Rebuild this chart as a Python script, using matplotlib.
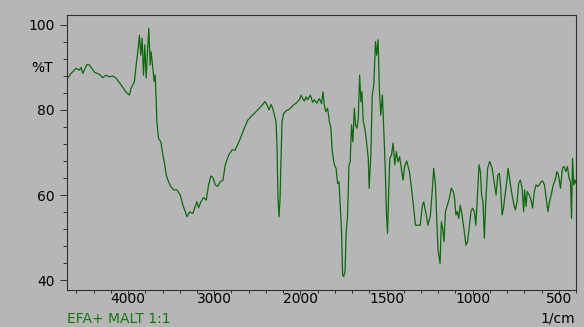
import matplotlib
matplotlib.use("Agg")
import matplotlib.pyplot as plt
import numpy as np
from matplotlib.ticker import FixedLocator, NullFormatter

# FTIR spectrum (cm-1, %T)
wavenumber = [
    4705, 4663, 4605, 4566, 4547, 4527, 4508, 4481, 4450, 4392, 4334, 4295,
    4257, 4218, 4179, 4140, 4082, 4024, 3985, 3966, 3927, 3907, 3888, 3869,
    3853, 3838, 3822, 3807, 3791, 3776, 3760, 3745, 3733, 3713, 3698, 3686,
    3674, 3667, 3647, 3620, 3597, 3581, 3558, 3531, 3504, 3473, 3434, 3395,
    3364, 3337, 3318, 3287, 3248, 3221, 3201, 3182, 3155, 3124, 3093, 3066,
    3039, 3016, 2989, 2961, 2930, 2899, 2872, 2833, 2795, 2756, 2729, 2690,
    2651, 2612, 2554, 2515, 2477, 2438, 2411, 2388, 2364, 2341, 2322, 2302,
    2283, 2271, 2260, 2248, 2236, 2225, 2213, 2194, 2167, 2128, 2090, 2051,
    2012, 1996, 1987, 1977, 1967, 1958, 1942, 1929, 1919, 1904, 1890, 1877,
    1869, 1861, 1853, 1842, 1832, 1823, 1815, 1803, 1793, 1784, 1776, 1770,
    1761, 1755, 1749, 1741, 1734, 1726, 1718, 1711, 1703, 1695, 1687, 1680,
    1672, 1664, 1656, 1649, 1643, 1635, 1626, 1616, 1606, 1601, 1591, 1583,
    1574, 1564, 1557, 1549, 1541, 1533, 1524, 1514, 1507, 1500, 1494, 1489,
    1481, 1471, 1462, 1452, 1443, 1433, 1424, 1414, 1404, 1395, 1383, 1367,
    1355, 1344, 1332, 1317, 1304, 1293, 1284, 1270, 1259, 1245, 1235, 1226,
    1216, 1208, 1201, 1189, 1182, 1174, 1166, 1158, 1147, 1135, 1124, 1112,
    1105, 1097, 1089, 1081, 1072, 1062, 1051, 1039, 1030, 1020, 1010, 1001,
    990, 982, 974, 963, 955, 948, 940, 932, 924, 913, 901, 887,
    875, 864, 854, 845, 837, 829, 821, 812, 802, 794, 783, 771,
    760, 752, 742, 733, 723, 713, 704, 698, 690, 683, 671, 661,
    652, 642, 632, 623, 613, 604, 594, 583, 573, 563, 554, 544,
    532, 521, 511, 502, 490, 479, 469, 459, 450, 440, 432, 426,
    420, 413, 405, 399,
]
transmittance = [
    87.4, 88.6, 89.8, 89.4, 90.0, 88.6, 89.4, 90.7, 90.6, 88.9, 88.4, 87.6,
    88.2, 87.8, 88.0, 87.5, 85.9, 84.2, 83.5, 85.1, 86.7, 90.6, 93.7, 97.6,
    92.9, 96.9, 88.2, 95.3, 87.5, 93.7, 99.2, 90.6, 93.7, 89.8, 86.7, 88.2,
    82.0, 77.3, 73.3, 72.5, 69.4, 67.8, 64.7, 63.1, 62.0, 61.2, 61.2, 60.0,
    57.6, 56.1, 54.9, 56.0, 55.7, 57.3, 58.4, 57.0, 58.4, 59.4, 58.8, 62.4,
    64.5, 64.1, 62.4, 62.0, 63.1, 63.5, 67.1, 69.4, 70.6, 70.6, 71.8, 73.7,
    75.7, 77.6, 78.8, 79.6, 80.4, 81.3, 82.0, 81.2, 80.0, 81.3, 80.4, 78.8,
    77.3, 71.0, 59.2, 54.9, 59.2, 68.6, 77.3, 79.2, 79.8, 80.2, 81.0, 81.6,
    82.4, 83.5, 82.7, 82.1, 83.1, 82.4, 83.5, 81.8, 82.4, 81.6, 82.7, 81.5,
    84.3, 81.2, 79.6, 80.4, 77.3, 75.7, 70.2, 67.1, 66.3, 62.7, 63.1, 58.4,
    51.4, 41.2, 40.8, 42.0, 51.4, 55.3, 67.1, 67.8, 76.5, 72.5, 80.4, 76.5,
    75.7, 78.0, 88.2, 82.0, 84.3, 77.3, 75.7, 72.5, 68.6, 61.6, 69.4, 83.5,
    85.9, 96.1, 92.9, 96.5, 84.3, 78.8, 83.5, 73.3, 65.5, 55.3, 51.0, 58.4,
    68.6, 69.4, 72.2, 67.1, 70.2, 67.8, 69.0, 66.3, 63.5, 66.7, 68.0, 65.5,
    61.6, 57.6, 52.9, 52.9, 52.9, 57.3, 58.4, 55.3, 52.9, 55.3, 60.8, 66.3,
    62.4, 53.7, 47.1, 43.9, 53.7, 52.2, 49.0, 56.1, 57.6, 59.2, 61.6, 60.8,
    59.2, 55.3, 56.1, 54.5, 57.6, 55.3, 52.2, 48.2, 49.0, 52.2, 56.1, 56.9,
    56.1, 52.9, 58.4, 67.1, 65.5, 60.0, 58.4, 49.8, 58.4, 66.3, 67.9, 66.3,
    63.1, 60.0, 64.7, 65.1, 61.6, 55.3, 56.9, 60.0, 63.1, 66.3, 63.1, 60.0,
    57.6, 56.5, 58.4, 62.7, 63.5, 61.6, 56.1, 61.2, 57.3, 60.8, 60.0, 58.8,
    56.9, 60.8, 62.4, 62.0, 62.4, 63.1, 63.3, 62.4, 59.2, 56.1, 58.4, 60.0,
    62.4, 63.5, 65.5, 64.7, 61.6, 66.3, 66.7, 65.5, 66.7, 63.9, 63.1, 54.5,
    68.6, 62.4, 63.5, 62.7,
]

x_major = [4000, 3000, 2000, 1500, 1000, 500]
x_minor = [4600, 4400, 4200, 3800, 3600, 3400, 3200, 2800, 2600, 2400, 2200,
           1900, 1800, 1700, 1600, 1400, 1300, 1200, 1100, 900, 800, 700, 600, 400]
y_major = [40, 60, 80, 100]
y_minor = [44, 48, 52, 56, 64, 68, 72, 76, 84, 88, 92, 96]

sample_label = "EFA+ MALT 1:1"
y_unit = "%T"
x_unit = "1/cm"

BG = "#b6b6b6"
LINE = "#0b6b0b"


def forward(w):
    # spectrometer axis: scale doubles below 2000 cm-1
    w = np.asarray(w, dtype=float)
    return np.where(w >= 2000, (w - 2000) / 1000.0, (w - 2000) / 500.0)


def inverse(u):
    u = np.asarray(u, dtype=float)
    return np.where(u >= 0, 2000 + u * 1000.0, 2000 + u * 500.0)


plt.rcParams["font.family"] = "DejaVu Sans"
plt.rcParams["font.size"] = 10

fig = plt.figure(figsize=(5.84, 3.27), dpi=100, facecolor=BG)
ax = fig.add_axes([67 / 584, 1 - 290 / 327, 509 / 584, 275 / 327])
ax.set_facecolor(BG)

ax.plot(wavenumber, transmittance, color=LINE, linewidth=0.9)

ax.set_xscale("function", functions=(forward, inverse))
ax.set_xlim(4710, 400)
ax.set_ylim(37.65, 102.35)

ax.xaxis.set_major_locator(FixedLocator(x_major))
ax.xaxis.set_minor_locator(FixedLocator(x_minor))
ax.xaxis.set_minor_formatter(NullFormatter())
ax.set_xticklabels([str(v) for v in x_major])
ax.yaxis.set_major_locator(FixedLocator(y_major))
ax.yaxis.set_minor_locator(FixedLocator(y_minor))
ax.set_yticklabels([str(v) for v in y_major])

ax.tick_params(axis="x", which="major", direction="out", length=3.8, width=0.7,
               color="#303030", pad=-2.6, labelsize=10)
ax.tick_params(axis="x", which="minor", direction="out", length=2.0, width=0.7,
               color="#303030")
ax.tick_params(axis="y", which="major", direction="out", length=5.0, width=0.7,
               color="#303030", pad=4.0, labelsize=10)
ax.tick_params(axis="y", which="minor", direction="out", length=3.0, width=0.7,
               color="#303030")

for spine in ax.spines.values():
    spine.set_color("#303030")
    spine.set_linewidth(0.8)

fig.text(53 / 584, 1 - 68 / 327, y_unit, ha="right", va="center", fontsize=10)
fig.text(575 / 584, 1 - 319 / 327, x_unit, ha="right", va="center", fontsize=10)
fig.text(67 / 584, 1 - 319 / 327, sample_label, ha="left", va="center",
         fontsize=10, color="#0f7a0f")

fig.savefig("out.png", dpi=100, facecolor=BG)
